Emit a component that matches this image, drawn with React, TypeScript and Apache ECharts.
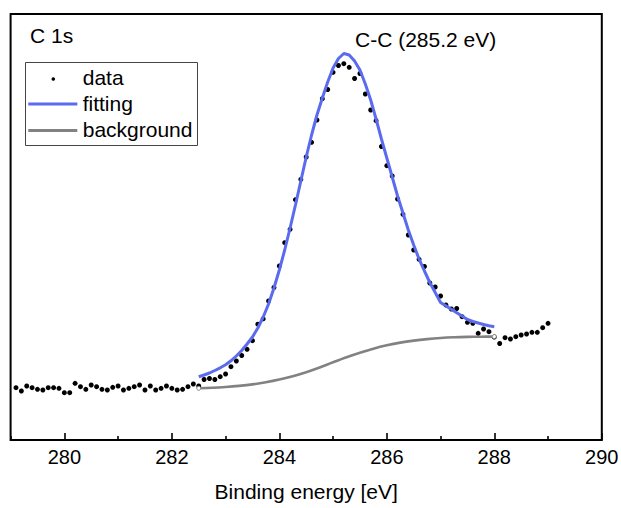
import React, { useEffect, useRef } from "react";
import * as echarts from "echarts";

// ---- data ----
const dataStart = 279.1;
const dataStep = 0.1;
const dataIntensity = [
  52.3, 49, 54, 52.3, 50.7, 50, 52.3, 52.3, 51.7, 47.3,
  47.3, 56.7, 53.3, 50.7, 55, 53.3, 50.7, 50, 52.7, 54,
  50, 51.7, 53.3, 55, 50, 54, 50, 51.7, 54, 51.7,
  50, 50.7, 53.3, 56, 54, 60.5, 61.5, 60.5, 63.3, 66,
  73.3, 79, 84.5, 90.7, 99.3, 115.8, 121.2, 139, 152.5, 174,
  197.3, 210.7, 240.3, 260.7, 283, 297.7, 320, 341.3, 350.5, 367.7,
  374.5, 376.3, 372.7, 361.5, 366.5, 346, 330, 319.3, 293.5, 274.3,
  264, 241, 225.7, 205, 190, 180.7, 173.5, 157, 153, 144,
  135, 131, 131.5, 123.3, 117.7, 116.7, 106.7, 111, 108.3, 103,
  96.5, 102.3, 101, 103.3, 105, 106, 107.7, 107.7, 112.3, 116.7,
];

const fitEnergy = [
  282.5, 282.6, 282.7, 282.8, 282.9, 283.0, 283.1, 283.2, 283.3, 283.4,
  283.5, 283.6, 283.7, 283.8, 283.9, 284.0, 284.1, 284.2, 284.3, 284.4,
  284.5, 284.6, 284.7, 284.8, 284.9, 285.0, 285.1, 285.2, 285.3, 285.4,
  285.5, 285.6, 285.7, 285.8, 285.9, 286.0, 286.1, 286.2, 286.3, 286.4,
  286.5, 286.6, 286.7, 286.8, 286.9, 287.0, 287.5, 287.6, 287.7, 287.8,
  287.9, 288.0,
];
const fitIntensity = [
  63.3, 65, 67, 69.5, 72.2, 75.2, 79.2, 84, 89.5, 96,
  103, 112, 123, 136, 152, 170, 190, 212, 235, 259,
  283, 305, 325, 342, 358, 372, 381.5, 386.5, 385, 379,
  370, 356, 340, 321, 301, 282, 263, 244, 227, 210,
  195, 181, 169, 157.5, 147.5, 137.5, 120.5, 118.5, 117, 115.5,
  114.3, 113.3,
];

const bgEnergy = [
  282.5, 282.75, 283.0, 283.25, 283.5, 283.75, 284.0, 284.25, 284.5, 284.75,
  285.0, 285.25, 285.5, 285.75, 286.0, 286.25, 286.5, 286.75, 287.0, 287.25,
  287.5, 287.75, 288.0,
];
const bgIntensity = [
  51.7, 52.2, 53, 54.1, 55.6, 57.7, 60.4, 63.8, 67.8, 72.5,
  77.7, 82.7, 87.2, 91.3, 94.7, 97.4, 99.4, 100.9, 102, 102.7,
  103.1, 103.3, 103.4,
];

const xMajorTicks = [280, 282, 284, 286, 288, 290];
const xMinorTicks = [279, 281, 283, 285, 287, 289];

const FONT = "'Liberation Sans', Arial, sans-serif";
const BLUE = "#5a6bef";
const GRAY = "#828282";

export default function App() {
  const ref = useRef<HTMLDivElement>(null);

  useEffect(() => {
    if (!ref.current) return;
    const chart = echarts.init(ref.current, null, { renderer: "svg" });

    const dataPts = dataIntensity.map((v, i) => [
      Math.round((dataStart + i * dataStep) * 10) / 10,
      v,
    ]);
    const fitPts = fitEnergy.map((e, i) => [e, fitIntensity[i]]);
    const bgPts = bgEnergy.map((e, i) => {
      const item: any = { value: [e, bgIntensity[i]] };
      if (i === 0 || i === bgEnergy.length - 1) {
        item.symbol = "circle";
        item.symbolSize = 4;
        item.itemStyle = { color: "#fff", borderColor: GRAY, borderWidth: 1 };
      }
      return item;
    });

    chart.setOption({
      animation: false,
      grid: {
        left: 10.6,
        right: 19.2,
        top: 14,
        bottom: 68,
        show: true,
        borderColor: "#000",
        borderWidth: 2,
        backgroundColor: "transparent",
        containLabel: false,
        outerBoundsMode: "none",
      },
      xAxis: [
        {
          type: "value",
          min: 279,
          max: 290,
          position: "bottom",
          axisLine: { show: false },
          splitLine: { show: false },
          axisTick: {
            show: true,
            inside: true,
            length: 7,
            customValues: xMajorTicks,
            lineStyle: { color: "#000", width: 1.6 },
          },
          axisLabel: {
            show: true,
            customValues: xMajorTicks,
            color: "#000",
            fontSize: 20,
            fontFamily: FONT,
            margin: 7,
          },
          name: "Binding energy [eV]",
          nameLocation: "middle",
          nameGap: 41,
          nameTextStyle: { color: "#000", fontSize: 21, fontFamily: FONT },
        },
        {
          type: "value",
          min: 279,
          max: 290,
          position: "bottom",
          offset: 0,
          axisLine: { show: false },
          splitLine: { show: false },
          axisLabel: { show: false },
          axisTick: {
            show: true,
            inside: true,
            length: 4,
            customValues: xMinorTicks,
            lineStyle: { color: "#000", width: 1.6 },
          },
        },
      ],
      yAxis: {
        type: "value",
        min: 0,
        max: 426,
        axisLine: { show: false },
        axisTick: { show: false },
        axisLabel: { show: false },
        splitLine: { show: false },
      },
      series: [
        {
          name: "data",
          type: "scatter",
          xAxisIndex: 0,
          data: dataPts,
          symbol: "circle",
          symbolSize: 5,
          itemStyle: { color: "#000", opacity: 1 },
          silent: true,
          z: 2,
        },
        {
          name: "background",
          type: "line",
          xAxisIndex: 0,
          data: bgPts,
          symbol: "none",
          showSymbol: true,
          smooth: 0.3,
          lineStyle: { color: GRAY, width: 2.6 },
          itemStyle: { color: GRAY },
          silent: true,
          z: 3,
        },
        {
          name: "fitting",
          type: "line",
          xAxisIndex: 0,
          data: fitPts,
          symbol: "none",
          showSymbol: false,
          lineStyle: { color: BLUE, width: 3 },
          itemStyle: { color: BLUE },
          silent: true,
          z: 4,
        },
      ],
      graphic: [
        {
          type: "text",
          left: 30,
          top: 25,
          style: { text: "C 1s", fontSize: 21, fontFamily: FONT, fill: "#000" },
        },
        {
          type: "text",
          left: 355,
          top: 29,
          style: {
            text: "C-C (285.2 eV)",
            fontSize: 21,
            fontFamily: FONT,
            fill: "#000",
          },
        },
        {
          type: "rect",
          shape: { x: 25.5, y: 62.5, width: 172, height: 83 },
          style: { fill: "#fff", stroke: "#444", lineWidth: 1 },
          z: 10,
        },
        {
          type: "circle",
          shape: { cx: 53.3, cy: 79, r: 1.8 },
          style: { fill: "#000" },
          z: 11,
        },
        {
          type: "line",
          shape: { x1: 28.3, y1: 104, x2: 77.3, y2: 104 },
          style: { stroke: BLUE, lineWidth: 3 },
          z: 11,
        },
        {
          type: "line",
          shape: { x1: 28.3, y1: 130.5, x2: 77.3, y2: 130.5 },
          style: { stroke: GRAY, lineWidth: 3 },
          z: 11,
        },
        {
          type: "text",
          left: 82.7,
          top: 67,
          z: 11,
          style: { text: "data", fontSize: 21, fontFamily: FONT, fill: "#000" },
        },
        {
          type: "text",
          left: 82.7,
          top: 93,
          z: 11,
          style: { text: "fitting", fontSize: 21, fontFamily: FONT, fill: "#000" },
        },
        {
          type: "text",
          left: 82.7,
          top: 119,
          z: 11,
          style: {
            text: "background",
            fontSize: 21,
            fontFamily: FONT,
            fill: "#000",
          },
        },
      ],
    });

    return () => chart.dispose();
  }, []);

  return (
    <div
      ref={ref}
      style={{ position: "absolute", left: 0, top: 0, width: 621, height: 508 }}
    />
  );
}
